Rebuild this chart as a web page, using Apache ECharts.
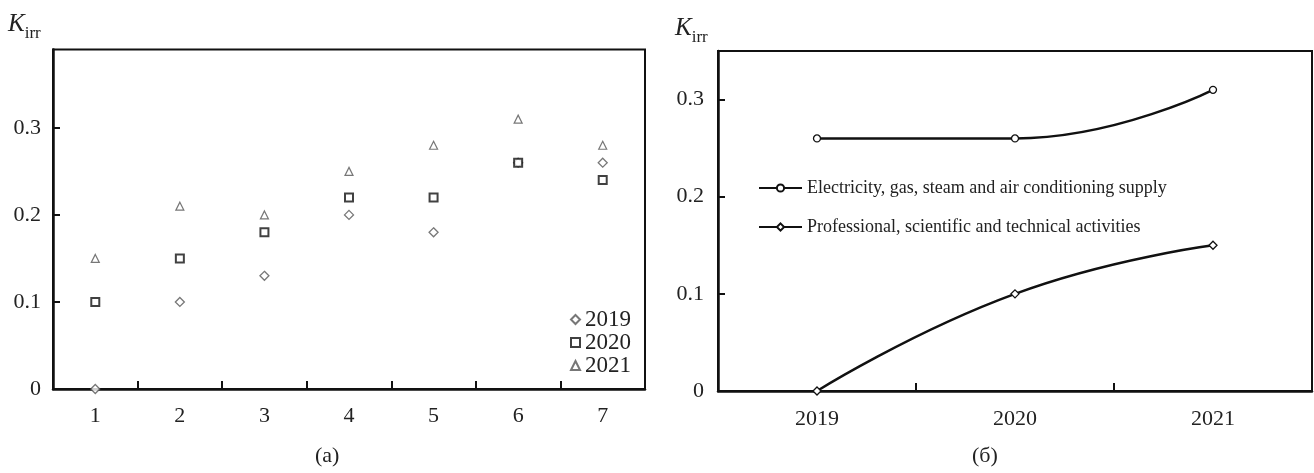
<!DOCTYPE html>
<html><head><meta charset="utf-8">
<script src="https://cdn.jsdelivr.net/npm/echarts@6/dist/echarts.min.js"></script>
<style>html,body{margin:0;padding:0;background:#fff}#c{width:1314px;height:473px}</style>
</head><body><div id="c"></div>
<script>
// ---- Data ----
const categoriesA = ['1', '2', '3', '4', '5', '6', '7'];
const v2019 = [0, 0.10, 0.13, 0.20, 0.18, 0.26, 0.26];
const v2020 = [0.10, 0.15, 0.18, 0.22, 0.22, 0.26, 0.24];
const v2021 = [0.15, 0.21, 0.20, 0.25, 0.28, 0.31, 0.28];
const yearsB = ['2019', '2020', '2021'];
const electricity = [0.26, 0.26, 0.31];
const professional = [0, 0.10, 0.15];
const seriesNamesB = ['Electricity, gas, steam and air conditioning supply', 'Professional, scientific and technical activities'];

const FONT = 'Liberation Serif';
const TXT = '#222';
const chart = echarts.init(document.getElementById('c'));

function yAx(gi, max, margin) {
  return {
    type: 'value', gridIndex: gi, min: 0, max: max, interval: 0.1,
    axisLine: {show: true, lineStyle: {color: '#111', width: 2.5}},
    axisTick: {show: true, inside: true, length: 7, lineStyle: {color: '#111', width: 2}},
    splitLine: {show: false},
    axisLabel: {showMaxLabel: false, margin: margin, color: TXT, fontFamily: FONT, fontSize: 22,
      formatter: v => v === 0 ? '0' : v.toFixed(1)}
  };
}
function xAx(gi, data, margin) {
  return {
    type: 'category', gridIndex: gi, data: data, boundaryGap: true,
    axisLine: {show: true, lineStyle: {color: '#111', width: 2.5}},
    axisTick: {show: true, inside: true, length: 8, lineStyle: {color: '#111', width: 2}},
    splitLine: {show: false},
    axisLabel: {margin: margin, color: TXT, fontFamily: FONT, fontSize: 22}
  };
}
function kLabel(x, y) {
  return {type: 'text', left: x, top: y, style: {
    text: '{k|K}{s|irr}', fill: TXT,
    rich: {k: {fontFamily: FONT, fontStyle: 'italic', fontSize: 25, fill: TXT, verticalAlign: 'bottom'},
           s: {fontFamily: FONT, fontSize: 17, fill: TXT, verticalAlign: 'bottom', padding: [0, 0, -5, 0]}}
  }};
}

chart.setOption({
  animation: false,
  backgroundColor: '#fff',
  grid: [
    {left: 53, top: 49.5, width: 592, height: 339.5, show: true, borderColor: '#111', borderWidth: 2, backgroundColor: 'transparent'},
    {left: 718, top: 51, width: 594, height: 340, show: true, borderColor: '#111', borderWidth: 2, backgroundColor: 'transparent'}
  ],
  xAxis: [xAx(0, categoriesA, 16), xAx(1, yearsB, 17)],
  yAxis: [yAx(0, 0.39, 12), yAx(1, 0.35, 14)],
  legend: [
    {orient: 'vertical', left: 570, top: 308, padding: 0, itemGap: 0, itemWidth: 9, itemHeight: 9,
     data: ['2019', '2020', '2021'],
     textStyle: {fontFamily: FONT, fontSize: 23, lineHeight: 22, color: TXT}},
    {orient: 'vertical', left: 758, top: 179, padding: 0, itemGap: 21, itemWidth: 43, itemHeight: 9,
     data: seriesNamesB,
     textStyle: {fontFamily: FONT, fontSize: 18, lineHeight: 18, color: TXT}}
  ],
  series: [
    {name: '2019', type: 'scatter', xAxisIndex: 0, yAxisIndex: 0, data: v2019, symbol: 'diamond', symbolSize: 9,
     itemStyle: {color: '#fff', borderColor: '#555', borderWidth: 1.3}},
    {name: '2020', type: 'scatter', xAxisIndex: 0, yAxisIndex: 0, data: v2020, symbol: 'rect', symbolSize: 8,
     itemStyle: {color: '#fff', borderColor: '#111', borderWidth: 2}},
    {name: '2021', type: 'scatter', xAxisIndex: 0, yAxisIndex: 0, data: v2021, symbol: 'triangle', symbolSize: 8,
     itemStyle: {color: '#fff', borderColor: '#555', borderWidth: 1.2}},
    {name: seriesNamesB[0], type: 'line', xAxisIndex: 1, yAxisIndex: 1, data: electricity, smooth: 0.5,
     symbol: 'circle', symbolSize: 7, showAllSymbol: true,
     lineStyle: {color: '#111', width: 2.5},
     itemStyle: {color: '#fff', borderColor: '#111', borderWidth: 1.3}},
    {name: seriesNamesB[1], type: 'line', xAxisIndex: 1, yAxisIndex: 1, data: professional, smooth: 0.5,
     symbol: 'diamond', symbolSize: 8, showAllSymbol: true,
     lineStyle: {color: '#111', width: 2.5},
     itemStyle: {color: '#fff', borderColor: '#111', borderWidth: 1.3}}
  ],
  graphic: [
    kLabel(8, 12),
    kLabel(675, 16),
    {type: 'text', left: 315, top: 445, style: {text: '(a)', fontFamily: FONT, fontSize: 22, fill: TXT}},
    {type: 'text', left: 972, top: 445, style: {text: '(б)', fontFamily: FONT, fontSize: 22, fill: TXT}}
  ]
});
</script></body></html>
